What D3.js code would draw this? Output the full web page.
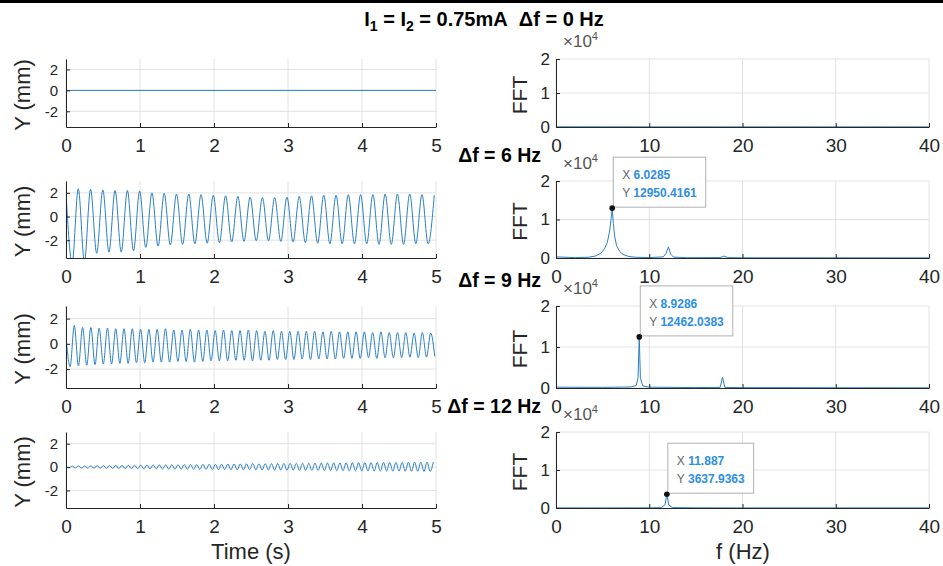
<!DOCTYPE html>
<html><head><meta charset="utf-8">
<script src="https://cdn.jsdelivr.net/npm/d3@7"></script>
<style>
body{margin:0;background:#fff;}
svg text{font-family:"Liberation Sans",Arial,Helvetica,sans-serif;}
</style>
</head><body>
<svg id="c" width="943" height="566"></svg>
<script>
// ---------------- DATA ----------------
const timeTicks = [0, 1, 2, 3, 4, 5];
const yTicks = [-2, 0, 2];
const freqTicks = [0, 10, 20, 30, 40];
const fftTicks = [0, 10000, 20000];
const mainTitle = ["I", "1", " = I", "2", " = 0.75mA\u00a0\u00a0Δf = 0 Hz"];
const rowTitles = ["", "Δf = 6 Hz", "Δf = 9 Hz", "Δf = 12 Hz"];

// dominant frequency of each displacement signal (Hz), from the data tips
const signalFreq = [0, 6.0285, 8.9286, 11.887];

// Δf = 0 Hz : flat displacement
const flatT = [0, 5];
const flatY = [0, 0];

// Δf = 6 Hz : successive maxima / minima of Y (mm)
const peaks2 = [2.0, 2.35, 2.3, 2.25, 2.2, 2.2, 2.15, 2.0, 1.95, 1.9, 1.9, 1.85, 1.8, 1.75, 1.7, 1.65, 1.6, 1.6, 1.65, 1.7, 1.75, 1.8, 1.8, 1.85, 1.85, 1.85, 1.9, 1.9, 1.9, 1.85, 1.8];
const troughs2 = [-3.9, -3.8, -3.1, -3.0, -3.0, -2.9, -2.6, -2.5, -2.4, -2.35, -2.3, -2.25, -2.2, -2.15, -2.1, -2.05, -2.05, -2.1, -2.15, -2.2, -2.25, -2.3, -2.3, -2.3, -2.3, -2.35, -2.35, -2.35, -2.3, -2.3];

// Δf = 9 Hz
const peaks3 = [0.5, 1.45, 1.3, 1.3, 1.25, 1.25, 1.2, 1.2, 1.2, 1.15, 1.15, 1.15, 1.2, 1.1, 1.1, 1.15, 1.1, 1.1, 1.05, 1.1, 1.05, 1.05, 1.1, 1.05, 1.0, 1.05, 1.0, 1.0, 1.0, 1.0, 1.0, 0.95, 1.0, 0.95, 0.95, 0.95, 0.95, 0.9, 0.95, 0.9, 0.9, 0.9, 0.85, 0.9, 0.85];
const troughs3 = [-1.8, -1.75, -1.7, -1.65, -1.6, -1.6, -1.55, -1.55, -1.5, -1.5, -1.45, -1.45, -1.45, -1.4, -1.4, -1.45, -1.4, -1.35, -1.35, -1.35, -1.3, -1.3, -1.35, -1.3, -1.3, -1.25, -1.25, -1.25, -1.2, -1.25, -1.2, -1.2, -1.2, -1.15, -1.15, -1.15, -1.1, -1.15, -1.1, -1.1, -1.1, -1.05, -1.1, -1.05, -1.0];

// Δf = 12 Hz
const peaks4 = [0.05, 0.08, 0.09, 0.1, 0.1, 0.12, 0.12, 0.13, 0.14, 0.14, 0.15, 0.16, 0.16, 0.17, 0.18, 0.18, 0.19, 0.2, 0.2, 0.21, 0.22, 0.22, 0.23, 0.24, 0.24, 0.25, 0.26, 0.26, 0.27, 0.28, 0.3, 0.28, 0.29, 0.3, 0.3, 0.31, 0.32, 0.32, 0.33, 0.33, 0.34, 0.35, 0.35, 0.36, 0.36, 0.37, 0.37, 0.38, 0.38, 0.39, 0.39, 0.4, 0.4, 0.41, 0.41, 0.42, 0.42, 0.42, 0.43, 0.43];
const troughs4 = [-0.06, -0.08, -0.08, -0.09, -0.1, -0.1, -0.11, -0.12, -0.12, -0.13, -0.13, -0.14, -0.15, -0.15, -0.16, -0.16, -0.17, -0.18, -0.18, -0.19, -0.19, -0.2, -0.2, -0.21, -0.22, -0.22, -0.23, -0.23, -0.24, -0.22, -0.24, -0.25, -0.25, -0.26, -0.26, -0.27, -0.27, -0.28, -0.28, -0.29, -0.29, -0.3, -0.3, -0.31, -0.31, -0.32, -0.32, -0.33, -0.33, -0.34, -0.34, -0.34, -0.35, -0.35, -0.36, -0.36, -0.36, -0.37, -0.37];

// FFT spectra
const fft0F = [0, 5, 10, 15, 20, 25, 30, 35, 40];
const fft0A = [60, 40, 30, 30, 25, 30, 25, 30, 25];
const fft6F = [0, 2, 3.5, 4.2, 4.8, 5.2, 5.5, 5.75, 5.9, 6.0285, 6.15, 6.3, 6.5, 6.8, 7.2, 7.8, 8.5, 10, 11.5, 11.8, 12.06, 12.3, 12.6, 14, 17.6, 18.0, 18.4, 20, 30, 40];
const fft6A = [300, 100, 200, 500, 1200, 2400, 4000, 7000, 10000, 12950.4161, 9000, 5500, 3200, 1800, 900, 400, 200, 100, 300, 1200, 2900, 1000, 250, 80, 100, 500, 100, 50, 40, 30];
const fft9F = [0, 5, 8, 8.6, 8.8, 8.9286, 9.05, 9.3, 10, 15, 17.6, 17.86, 18.1, 20, 30, 40];
const fft9A = [200, 150, 250, 600, 2500, 12462.0383, 2500, 500, 200, 100, 150, 2600, 150, 80, 60, 40];
const fft12F = [0, 5, 10, 11.3, 11.7, 11.887, 12.1, 12.5, 15, 20, 30, 40];
const fft12A = [30, 20, 40, 100, 900, 3637.9363, 800, 100, 40, 20, 20, 20];

const tipX = [null, "6.0285", "8.9286", "11.887"];
const tipY = [null, "12950.4161", "12462.0383", "3637.9363"];

// ---------------- BUILD ----------------
function extremaSeries(peaks, troughs, f) {
  const pts = [];
  const n = peaks.length + troughs.length;
  for (let k = 0; k < n; k++) {
    const v = (k % 2 === 0) ? peaks[k / 2] : troughs[(k - 1) / 2];
    pts.push({t: k * 0.5 / f, v});
  }
  return pts;
}
const timeSeries = [
  flatT.map((t, i) => ({t, v: flatY[i]})),
  extremaSeries(peaks2, troughs2, signalFreq[1]),
  extremaSeries(peaks3, troughs3, signalFreq[2]),
  extremaSeries(peaks4, troughs4, signalFreq[3])
];
const spectra = [
  fft0F.map((f, i) => ({f, a: fft0A[i]})),
  fft6F.map((f, i) => ({f, a: fft6A[i]})),
  fft9F.map((f, i) => ({f, a: fft9A[i]})),
  fft12F.map((f, i) => ({f, a: fft12A[i]}))
];

// ---------------- LAYOUT ----------------
const svg = d3.select("#c");
const rows = [{top: 59, bottom: 127}, {top: 181, bottom: 258}, {top: 306, bottom: 388}, {top: 432, bottom: 508}];
const LX = [66, 436], RX = [556, 929];
const axisColor = "#262626", gridColor = "#e2e2e2", lineColor = "#2a7fc4";

svg.append("rect").attr("x", 0).attr("y", 0).attr("width", 943).attr("height", 3).attr("fill", "#000");

// main title
const tt = svg.append("text").attr("x", 484).attr("y", 26).attr("text-anchor", "middle")
  .attr("font-size", 20).attr("font-weight", "bold").attr("fill", "#000");
mainTitle.forEach((s, i) => {
  const sp = tt.append("tspan").text(s);
  if (i === 1 || i === 3) sp.attr("font-size", 14).attr("dy", 5);
  else if (i > 1) sp.attr("dy", -5);
});

const defs = svg.append("defs");

rows.forEach((r, i) => {
  // ---------- left: displacement ----------
  const x = d3.scaleLinear().domain([0, 5]).range(LX);
  const y = d3.scaleLinear().domain([-3.5, 3]).range([r.bottom, r.top]);
  const g = svg.append("g");
  g.selectAll(".gx").data(timeTicks).join("line")
    .attr("x1", d => x(d)).attr("x2", d => x(d)).attr("y1", r.top).attr("y2", r.bottom)
    .attr("stroke", gridColor);
  g.selectAll(".gy").data(yTicks).join("line")
    .attr("x1", LX[0]).attr("x2", LX[1]).attr("y1", d => y(d)).attr("y2", d => y(d))
    .attr("stroke", gridColor);

  const cid = "clipL" + i;
  defs.append("clipPath").attr("id", cid).append("rect")
    .attr("x", LX[0]).attr("y", r.top).attr("width", LX[1] - LX[0]).attr("height", r.bottom - r.top);
  g.append("path").datum(timeSeries[i]).attr("clip-path", `url(#${cid})`)
    .attr("fill", "none").attr("stroke", lineColor).attr("stroke-width", 1)
    .attr("d", d3.line().x(d => x(d.t)).y(d => y(d.v)).curve(d3.curveMonotoneX));

  const ax = g.append("g").attr("transform", `translate(0,${r.bottom})`)
    .call(d3.axisBottom(x).tickValues(timeTicks).tickSize(-4).tickSizeOuter(0).tickPadding(12).tickFormat(d => String(d)));
  ax.selectAll("text").attr("font-size", 19).attr("fill", axisColor);
  const ay = g.append("g").attr("transform", `translate(${LX[0]},0)`)
    .call(d3.axisLeft(y).tickValues(yTicks).tickSize(-4).tickSizeOuter(0).tickPadding(8).tickFormat(d => String(d)));
  ay.selectAll("text").attr("font-size", 15).attr("fill", axisColor);
  [ax, ay].forEach(a => { a.selectAll("path,line").attr("stroke", axisColor); a.attr("font-family", null); });

  g.append("text").attr("transform", `translate(30,${(r.top + r.bottom) / 2 + 2}) rotate(-90)`)
    .attr("text-anchor", "middle").attr("font-size", 22).attr("fill", axisColor).text("Y (mm)");

  // ---------- right: FFT ----------
  const fx = d3.scaleLinear().domain([0, 40]).range(RX);
  const fy = d3.scaleLinear().domain([0, 20000]).range([r.bottom, r.top]);
  const h = svg.append("g");
  h.selectAll(".gx").data(freqTicks).join("line")
    .attr("x1", d => fx(d)).attr("x2", d => fx(d)).attr("y1", r.top).attr("y2", r.bottom)
    .attr("stroke", gridColor);
  h.selectAll(".gy").data(fftTicks).join("line")
    .attr("x1", RX[0]).attr("x2", RX[1]).attr("y1", d => fy(d)).attr("y2", d => fy(d))
    .attr("stroke", gridColor);

  const cid2 = "clipR" + i;
  defs.append("clipPath").attr("id", cid2).append("rect")
    .attr("x", RX[0]).attr("y", r.top).attr("width", RX[1] - RX[0]).attr("height", r.bottom - r.top + 1);
  h.append("path").datum(spectra[i]).attr("clip-path", `url(#${cid2})`)
    .attr("fill", "none").attr("stroke", lineColor).attr("stroke-width", 1)
    .attr("d", d3.line().x(d => fx(d.f)).y(d => fy(d.a)));

  const bx = h.append("g").attr("transform", `translate(0,${r.bottom})`)
    .call(d3.axisBottom(fx).tickValues(freqTicks).tickSize(-4).tickSizeOuter(0).tickPadding(12).tickFormat(d => String(d)));
  bx.selectAll("text").attr("font-size", 19).attr("fill", axisColor);
  const by = h.append("g").attr("transform", `translate(${RX[0]},0)`)
    .call(d3.axisLeft(fy).tickValues(fftTicks).tickSize(-4).tickSizeOuter(0).tickPadding(6).tickFormat(d => String(d / 10000)));
  by.selectAll("text").attr("font-size", 17).attr("fill", axisColor);
  [bx, by].forEach(a => { a.selectAll("path,line").attr("stroke", axisColor); a.attr("font-family", null); });

  h.append("text").attr("transform", `translate(527,${(r.top + r.bottom) / 2 + 2}) rotate(-90)`)
    .attr("text-anchor", "middle").attr("font-size", 21).attr("fill", axisColor).text("FFT");

  const ex = h.append("text").attr("x", RX[0] + 7).attr("y", r.top - 12)
    .attr("font-size", 17).attr("fill", "#555");
  ex.append("tspan").text("×10");
  ex.append("tspan").attr("font-size", 11).attr("dy", -7).text("4");

  if (rowTitles[i]) {
    svg.append("text").attr("x", 541).attr("y", r.top - 19).attr("text-anchor", "end")
      .attr("font-size", 19.5).attr("font-weight", "bold").attr("fill", "#000").text(rowTitles[i]);
  }

  // data tip
  if (tipX[i]) {
    const mx = fx(+tipX[i]), my = fy(+tipY[i]);
    const tg = h.append("g");
    const rect = tg.append("rect").attr("fill", "#fff").attr("stroke", "#a8a8a8").attr("stroke-width", 0.9);
    const left = mx + 1, bottom = my - 1, top = bottom - 50;
    const t1 = tg.append("text").attr("x", left + 9).attr("y", top + 22).attr("font-size", 12);
    t1.append("tspan").attr("fill", "#666").text("X ");
    t1.append("tspan").attr("fill", "#2c8ee6").attr("font-weight", "bold").text(tipX[i]);
    const t2 = tg.append("text").attr("x", left + 9).attr("y", top + 40).attr("font-size", 12);
    t2.append("tspan").attr("fill", "#666").text("Y ");
    t2.append("tspan").attr("fill", "#2c8ee6").attr("font-weight", "bold").text(tipY[i]);
    const w = Math.max(t1.node().getComputedTextLength(), t2.node().getComputedTextLength()) + 18;
    rect.attr("x", left).attr("y", top).attr("width", w).attr("height", 50);
    tg.append("circle").attr("cx", mx).attr("cy", my).attr("r", 2.8).attr("fill", "#111");
  }
});

// axis labels
svg.append("text").attr("x", 251).attr("y", 559).attr("text-anchor", "middle")
  .attr("font-size", 22).attr("fill", axisColor).text("Time (s)");
svg.append("text").attr("x", 743).attr("y", 559).attr("text-anchor", "middle")
  .attr("font-size", 22).attr("fill", axisColor).text("f (Hz)");
</script>
</body></html>
